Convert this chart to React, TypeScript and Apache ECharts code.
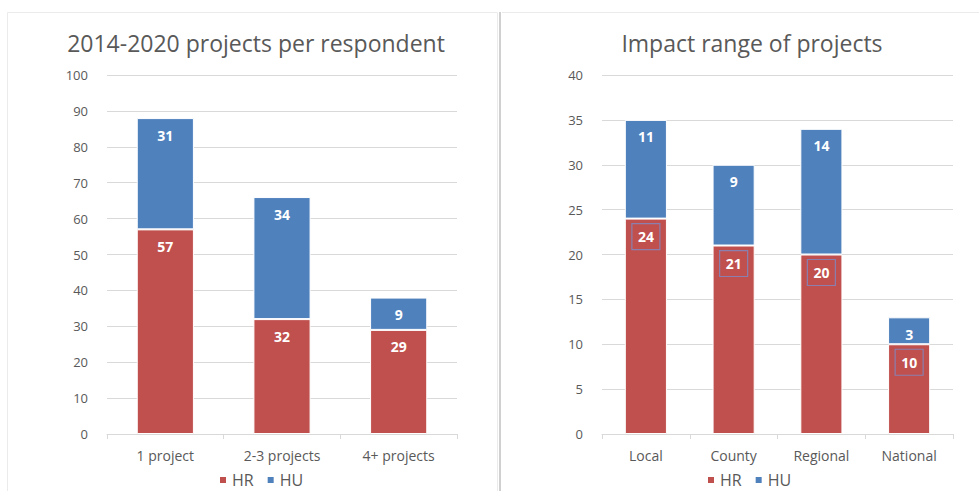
import React, { useEffect, useRef } from "react";
import * as echarts from "echarts";

const leftTitle = "2014-2020 projects per respondent";
const rightTitle = "Impact range of projects";
const leftCategories = ["1 project", "2-3 projects", "4+ projects"];
const leftHR = [57, 32, 29];
const leftHU = [31, 34, 9];
const rightCategories = ["Local", "County", "Regional", "National"];
const rightHR = [24, 21, 20, 10];
const rightHU = [11, 9, 14, 3];
const seriesNames = ["HR", "HU"];

const RED = "#C0504D";
const BLUE = "#4F81BD";
const TXT = "#595959";
const FONT = "'Open Sans', 'Liberation Sans', sans-serif";

export default function App() {
  const ref = useRef<HTMLDivElement>(null);
  useEffect(() => {
    if (!ref.current) return;
    const chart = echarts.init(ref.current, null, { renderer: "svg" });
    const axisLabel = { color: TXT, fontSize: 13, fontFamily: FONT };
    const xAxisBase = (idx: number, data: string[]) => ({
      type: "category",
      gridIndex: idx,
      data,
      axisLine: { lineStyle: { color: "#d9d9d9" } },
      axisTick: { show: true, length: 5, lineStyle: { color: "#d9d9d9" } },
      axisLabel: { ...axisLabel, fontSize: 14, margin: 14 },
    });
    const yAxisBase = (idx: number, max: number, interval: number) => ({
      type: "value",
      gridIndex: idx,
      min: 0,
      max,
      interval,
      axisLine: { show: false },
      axisTick: { show: false },
      axisLabel: { ...axisLabel, margin: 19 },
      splitLine: { lineStyle: { color: "#d9d9d9", width: 1 } },
    });
    const label = {
      show: true,
      position: "insideTop",
      distance: 10,
      color: "#fff",
      fontWeight: "bold",
      fontSize: 14,
      fontFamily: FONT,
    };
    const boxedLabel = {
      ...label,
      distance: 5,
      padding: [6, 6, 6, 6],
      borderColor: "#8a7fae",
      borderWidth: 1.2,
    };
    const itemStyle = (c: string) => ({ color: c, borderColor: "#fff", borderWidth: 1 });
    const legend = (left: number) => ({
      data: seriesNames,
      left,
      top: 467,
      icon: "rect",
      itemWidth: 8,
      itemHeight: 8,
      itemGap: 12,
      textStyle: { color: TXT, fontSize: 16, fontFamily: FONT },
    });
    chart.setOption({
      animation: false,
      backgroundColor: "#fff",
      title: [
        {
          text: leftTitle,
          left: 251,
          top: 26,
          textAlign: "center",
          textStyle: { color: TXT, fontSize: 23, fontWeight: "normal", fontFamily: FONT },
        },
        {
          text: rightTitle,
          left: 747,
          top: 26,
          textAlign: "center",
          textStyle: { color: TXT, fontSize: 23, fontWeight: "normal", fontFamily: FONT },
        },
      ],
      legend: [legend(213), legend(701)],
      grid: [
        { left: 107, top: 75, width: 350, height: 359 },
        { left: 602, top: 75, width: 351, height: 359 },
      ],
      xAxis: [xAxisBase(0, leftCategories), xAxisBase(1, rightCategories)],
      yAxis: [yAxisBase(0, 100, 10), yAxisBase(1, 40, 5)],
      series: [
        { name: "HR", type: "bar", stack: "a", xAxisIndex: 0, yAxisIndex: 0, data: leftHR, barWidth: "49%", itemStyle: itemStyle(RED), label },
        { name: "HU", type: "bar", stack: "a", xAxisIndex: 0, yAxisIndex: 0, data: leftHU, barWidth: "49%", itemStyle: itemStyle(BLUE), label },
        { name: "HR", type: "bar", stack: "b", xAxisIndex: 1, yAxisIndex: 1, data: rightHR, barWidth: "48%", itemStyle: itemStyle(RED), label: boxedLabel },
        { name: "HU", type: "bar", stack: "b", xAxisIndex: 1, yAxisIndex: 1, data: rightHU, barWidth: "48%", itemStyle: itemStyle(BLUE), label },
      ],
      graphic: [
        { type: "rect", shape: { x: 7.5, y: 12.5, width: 490, height: 490 }, style: { fill: "none", stroke: "#ebebeb", lineWidth: 1 }, silent: true },
        { type: "line", shape: { x1: 500, y1: 12, x2: 500, y2: 491 }, style: { stroke: "#d0d0d0", lineWidth: 2 }, silent: true },
        { type: "line", shape: { x1: 502, y1: 12.5, x2: 979, y2: 12.5 }, style: { stroke: "#ebebeb", lineWidth: 1 }, silent: true },
      ],
    });
    return () => chart.dispose();
  }, []);
  return (
    <div
      ref={ref}
      style={{ position: "fixed", left: 0, top: 0, width: 979, height: 491 }}
    />
  );
}
